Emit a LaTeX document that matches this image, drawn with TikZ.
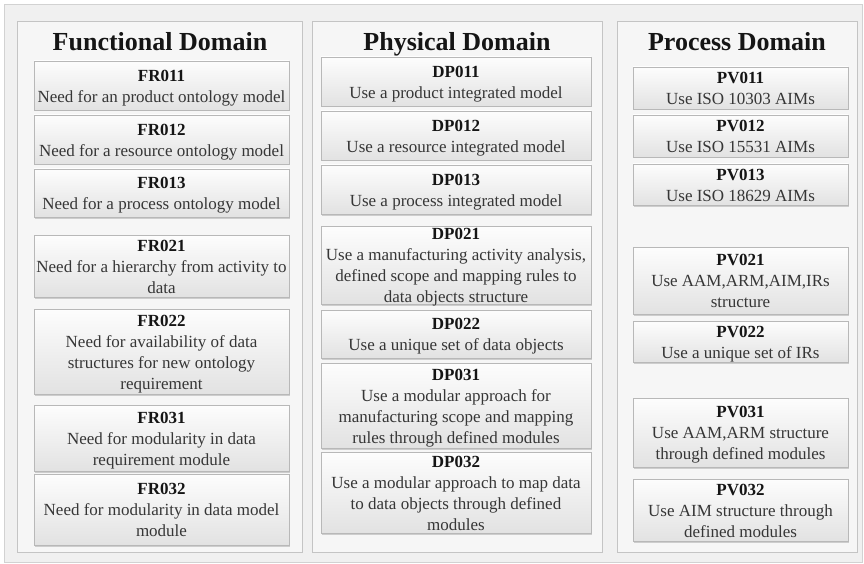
\documentclass[tikz,border=0pt]{standalone}
\usepackage{fontspec}
\setmainfont{Liberation Serif}
\usetikzlibrary{shadows}

\definecolor{pagebg}{HTML}{F0F0F0}
\definecolor{framebd}{HTML}{D2D2D2}
\definecolor{panelbg}{HTML}{F6F6F6}
\definecolor{panelbd}{HTML}{C4C4C4}
\definecolor{boxtop}{HTML}{FDFDFD}
\definecolor{boxbot}{HTML}{E2E2E2}
\definecolor{boxbd}{HTML}{B8B8B8}
\definecolor{bodytext}{HTML}{363636}
\definecolor{titletext}{HTML}{151515}

\tikzset{
  panel/.style={draw=panelbd, fill=panelbg, line width=0.8pt},
  paneltitle/.style={anchor=base, text=titletext, font=\fontsize{26}{30}\selectfont\bfseries, inner sep=0pt},
  reqbox/.style={draw=boxbd, line width=0.6pt, top color=boxtop, bottom color=boxbot,
    inner sep=0pt,
    drop shadow={shadow xshift=1pt, shadow yshift=-1.5pt, fill=black!35, opacity=0.5}},
  reqtext/.style={align=center, inner sep=0pt, text depth=0pt, text=bodytext,
    font=\fontsize{17}{21}\selectfont},
}

% \reqbox{name}{x1}{y1}{x2}{y2}{label}{text}
\newcommand\reqbox[7]{%
  \node[reqbox, minimum width={#4-#2}, minimum height={#5-#3}]
    (#1) at ({(#2+#4)/2},{(#3+#5)/2}) {};
  \node[reqtext, yshift=-0.5pt] (#1-txt) at (#1.center)
    {{\bfseries\color{titletext}#6}\\#7};}

\begin{document}
\begin{tikzpicture}[x=1pt, y=-1pt]
  \useasboundingbox (0,0) rectangle (864,564);
  \fill[white] (0,0) rectangle (864,564);
  \draw[framebd, fill=pagebg, line width=0.8pt] (4,4) rectangle (862,562);

  % domain panels
  \draw[panel] (17,21) rectangle (302,552);
  \draw[panel] (312,21) rectangle (602,552);
  \draw[panel] (617,21) rectangle (857,552);

  \node[paneltitle] (tfun) at (160,51) {Functional Domain};
  \node[paneltitle] (tphy) at (457,51) {Physical Domain};
  \node[paneltitle] (tpro) at (737,51) {Process Domain};

  % functional requirements
  \reqbox{fr011}{34}{61}{289}{110}{FR011}{Need for an product ontology model}
  \reqbox{fr012}{34}{115}{289}{164}{FR012}{Need for a resource ontology model}
  \reqbox{fr013}{34}{169}{289}{217}{FR013}{Need for a process ontology model}
  \reqbox{fr021}{34}{235}{289}{297}{FR021}{Need for a hierarchy from activity to\\data}
  \reqbox{fr022}{34}{309}{289}{394}{FR022}{Need for availability of data\\structures for new ontology\\requirement}
  \reqbox{fr031}{34}{405}{289}{471}{FR031}{Need for modularity in data\\requirement module}
  \reqbox{fr032}{34}{474}{289}{545}{FR032}{Need for modularity in data model\\module}

  % design parameters
  \reqbox{dp011}{321}{57}{591}{106}{DP011}{Use a product integrated model}
  \reqbox{dp012}{321}{111}{591}{160}{DP012}{Use a resource integrated model}
  \reqbox{dp013}{321}{165}{591}{214}{DP013}{Use a process integrated model}
  \reqbox{dp021}{321}{226}{591}{304}{DP021}{Use a manufacturing activity analysis,\\defined scope and mapping rules to\\data objects structure}
  \reqbox{dp022}{321}{310}{591}{358}{DP022}{Use a unique set of data objects}
  \reqbox{dp031}{321}{363}{591}{448}{DP031}{Use a modular approach for\\manufacturing scope and mapping\\rules through defined modules}
  \reqbox{dp032}{321}{452}{591}{533}{DP032}{Use a modular approach to map data\\to data objects through defined\\modules}

  % process variables
  \reqbox{pv011}{633}{67}{848}{109}{PV011}{Use ISO 10303 AIMs}
  \reqbox{pv012}{633}{115}{848}{157}{PV012}{Use ISO 15531 AIMs}
  \reqbox{pv013}{633}{164}{848}{205}{PV013}{Use ISO 18629 AIMs}
  \reqbox{pv021}{633}{247}{848}{314}{PV021}{Use AAM,ARM,AIM,IRs\\structure}
  \reqbox{pv022}{633}{321}{848}{362}{PV022}{Use a unique set of IRs}
  \reqbox{pv031}{633}{398}{848}{467}{PV031}{Use AAM,ARM structure\\through defined modules}
  \reqbox{pv032}{633}{479}{848}{541}{PV032}{Use AIM structure through\\defined modules}
\end{tikzpicture}
\end{document}
